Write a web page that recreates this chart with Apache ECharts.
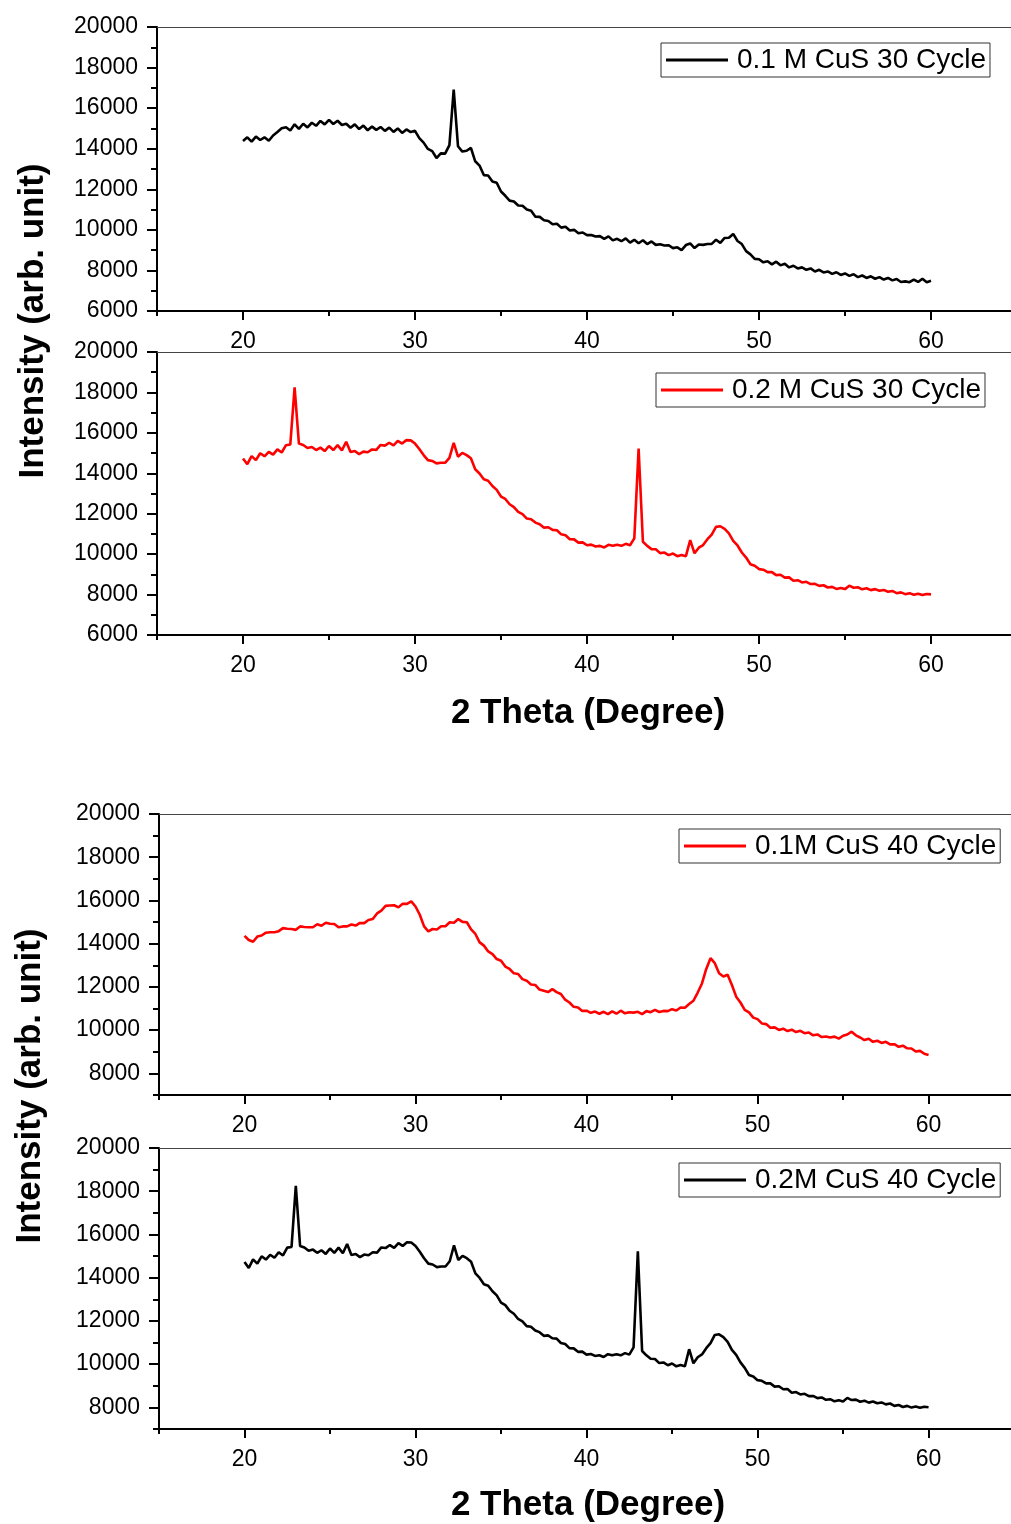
<!DOCTYPE html>
<html>
<head>
<meta charset="utf-8">
<script src="https://cdn.jsdelivr.net/npm/echarts@6/dist/echarts.min.js"></script>
<style>
  html, body { margin: 0; padding: 0; background: #fff; }
  #main { width: 1011px; height: 1524px; }
</style>
</head>
<body>
<div id="main"></div>
<script>
// 2 theta grid, 0.25 degree steps from 20 to 60
var theta = [];
for (var i = 0; i <= 160; i++) { theta.push(20 + i * 0.25); }

var names = ['0.1 M CuS 30 Cycle', '0.2 M CuS 30 Cycle', '0.1M CuS 40 Cycle', '0.2M CuS 40 Cycle'];
var colors = ['#000000', '#ff0000', '#ff0000', '#000000'];

var xLabels = [20, 30, 40, 50, 60];
var xMinor = [15, 25, 35, 45, 55];
var yLabels30 = [6000, 8000, 10000, 12000, 14000, 16000, 18000, 20000];
var yLabels40 = [8000, 10000, 12000, 14000, 16000, 18000, 20000];
var yMinor = [7000, 9000, 11000, 13000, 15000, 17000, 19000];

// intensities, one row = 2 degrees
var cus01_30 = [
  14380, 14560, 14350, 14600, 14430, 14560, 14390, 14650,
  14820, 15010, 15060, 14900, 15200, 14980, 15230, 15050,
  15280, 15130, 15370, 15200, 15420, 15220, 15380, 15170,
  15230, 15030, 15200, 14970, 15140, 14910, 15090, 14930,
  15070, 14880, 15040, 14830, 15000, 14780, 14950, 14820,
  14880, 14520, 14300, 13990, 13880, 13540, 13770, 13760,
  14180, 16920, 14120, 13860, 13900, 14040, 13380, 13170,
  12700, 12680, 12380, 12320, 11890, 11680, 11440, 11400,
  11200, 11190, 11000, 10940, 10650, 10640, 10470, 10440,
  10280, 10300, 10110, 10150, 9970, 10000, 9830, 9870,
  9740, 9750, 9670, 9690, 9560, 9680, 9480, 9560,
  9440, 9580, 9370, 9510, 9340, 9490, 9300, 9430,
  9260, 9290, 9230, 9240, 9100, 9140, 9000, 9250,
  9330, 9100, 9280, 9260, 9300, 9310, 9510, 9360,
  9600, 9610, 9800, 9450, 9300, 8950, 8790, 8570,
  8550, 8400, 8450, 8300, 8430, 8250, 8330, 8150,
  8230, 8100, 8150, 8030, 8100, 7950, 8030, 7900,
  7950, 7830, 7910, 7780, 7850, 7730, 7810, 7670,
  7750, 7630, 7710, 7590, 7670, 7550, 7630, 7510,
  7580, 7430, 7460, 7420, 7550, 7430, 7590, 7420,
  7490
];

var cus02_30 = [
  14730, 14450, 14850, 14650, 14990, 14840, 15060, 14920,
  15180, 15030, 15390, 15420, 18250, 15470, 15400, 15250,
  15300, 15150, 15270, 15100, 15350, 15150, 15390, 15130,
  15560, 15050, 15100, 14950, 15070, 15040, 15180, 15160,
  15400, 15370, 15510, 15380, 15600, 15470, 15640, 15630,
  15470, 15200, 14900, 14650, 14610, 14490, 14520, 14520,
  14760, 15500, 14820, 15010, 14900, 14740, 14200, 13990,
  13700, 13630, 13370, 13180, 12850, 12730, 12470, 12330,
  12090, 11980, 11760, 11730, 11560, 11480, 11310, 11330,
  11200, 11180, 10980, 10930, 10740, 10730, 10570, 10580,
  10440, 10470, 10380, 10410, 10330, 10460, 10410, 10460,
  10410, 10510, 10440, 10780, 15220, 10610, 10410, 10250,
  10240, 10050, 10080, 9950, 10030, 9900, 9960, 9900,
  10690, 10040, 10320, 10450, 10740, 10970, 11350, 11380,
  11250, 11030, 10660, 10430, 10080, 9830, 9500, 9430,
  9260, 9230, 9110, 9110, 8960, 8980, 8840, 8850,
  8680, 8710, 8600, 8630, 8520, 8530, 8430, 8460,
  8350, 8380, 8280, 8330, 8270, 8440, 8340, 8360,
  8260, 8310, 8220, 8270, 8190, 8230, 8140, 8180,
  8070, 8110, 8020, 8070, 7990, 8040, 7980, 8030,
  8010
];

var cus01_40 = [
  14360, 14170, 14090, 14330, 14380, 14510, 14530, 14530,
  14580, 14720, 14690, 14680, 14640, 14800, 14770, 14760,
  14760, 14900, 14830, 14970, 14920, 14910, 14760, 14800,
  14800, 14890, 14840, 14960, 14950, 15100, 15140, 15400,
  15530, 15750, 15770, 15780, 15680, 15850, 15840, 15960,
  15720, 15340, 14800, 14570, 14680, 14660, 14810, 14810,
  14990, 14970, 15140, 15010, 14990, 14660, 14450, 14060,
  13910, 13640, 13520, 13290, 13210, 12940, 12830, 12630,
  12600, 12360, 12290, 12110, 12090, 11880, 11820, 11760,
  11900, 11760, 11670, 11410, 11280, 11080, 11050, 10890,
  10900, 10800, 10860, 10760, 10850, 10740, 10870, 10760,
  10900, 10780, 10830, 10810, 10850, 10740, 10880, 10830,
  10940, 10840, 10890, 10880, 10970, 10910, 11050, 11040,
  11210, 11360, 11740, 12160, 12830, 13330, 13100, 12630,
  12480, 12560, 12090, 11550, 11280, 10940, 10820, 10580,
  10510, 10310, 10280, 10110, 10130, 10010, 10070, 9960,
  10020, 9910, 9970, 9860, 9890, 9760, 9800, 9680,
  9710, 9660, 9700, 9610, 9740, 9800, 9930, 9760,
  9660, 9540, 9600, 9460, 9510, 9410, 9460, 9340,
  9350, 9230, 9280, 9160, 9150, 9010, 9040, 8910,
  8850
];

// the 0.2M 40 cycle trace reads the same as the 0.2 M 30 cycle one
var cus02_40 = cus02_30;

var FONT = '"Liberation Sans", Arial, Helvetica, sans-serif';

// plot areas run to the right edge of the page, so xMax is where the frame is cut
var panels = [
  { values: cus01_30, yMin: 6000, yLabels: yLabels30, xMax: 64.65, rect: { left: 157, top: 27, width: 854, height: 284 }, legend: { left: 661, top: 43 } },
  { values: cus02_30, yMin: 6000, yLabels: yLabels30, xMax: 64.65, rect: { left: 157, top: 352, width: 854, height: 283 }, legend: { left: 656, top: 373 } },
  { values: cus01_40, yMin: 7000, yLabels: yLabels40, xMax: 64.82, rect: { left: 159, top: 814, width: 852, height: 281 }, legend: { left: 679, top: 829 } },
  { values: cus02_40, yMin: 7000, yLabels: yLabels40, xMax: 64.82, rect: { left: 159, top: 1148, width: 852, height: 281 }, legend: { left: 679, top: 1163 } }
];

var grids = [], xAxes = [], yAxes = [], series = [], legends = [];
var axisLine = { show: true, lineStyle: { color: '#000', width: 2 } };
var n = panels.length;

panels.forEach(function(p, k) {
  grids.push(Object.assign({ show: false, containLabel: false }, p.rect));
  xAxes.push({
    type: 'value', gridIndex: k, min: 15, max: p.xMax, position: 'bottom',
    axisLine: axisLine,
    axisTick: { inside: false, length: 9, customValues: xLabels, lineStyle: { color: '#000', width: 2 } },
    axisLabel: { customValues: xLabels, fontSize: 23, color: '#000', fontFamily: FONT, margin: 19 },
    splitLine: { show: false }
  });
  yAxes.push({
    type: 'value', gridIndex: k, min: p.yMin, max: 20000,
    axisLine: axisLine,
    axisTick: { inside: false, length: 10, customValues: p.yLabels, lineStyle: { color: '#000', width: 2 } },
    axisLabel: {
      customValues: p.yLabels, fontSize: 23, color: '#000', fontFamily: FONT, margin: 19,
      formatter: function(v) { return String(v); }
    },
    splitLine: { show: false }
  });
  series.push({
    name: names[k], type: 'line', xAxisIndex: k, yAxisIndex: k,
    data: theta.map(function(t, i) { return [t, p.values[i]]; }),
    showSymbol: false, symbol: 'none',
    lineStyle: { color: colors[k], width: 2.6 },
    itemStyle: { color: colors[k] },
    animation: false
  });
  legends.push({
    data: [names[k]], left: p.legend.left, top: p.legend.top,
    orient: 'horizontal', icon: 'rect', itemWidth: 62, itemHeight: 3,
    padding: [3, 4, 3, 5],
    borderColor: '#333', borderWidth: 1, backgroundColor: '#fff',
    textStyle: { fontSize: 28, color: '#000', fontFamily: FONT, padding: [0, 0, 0, 4] },
    selectedMode: false
  });
});

// overlay grids carrying the short minor ticks
panels.forEach(function(p, k) {
  grids.push(Object.assign({ show: false }, p.rect));
  xAxes.push({
    type: 'value', gridIndex: n + k, min: 15, max: p.xMax,
    axisLine: { show: false },
    axisTick: { inside: false, length: 5, customValues: xMinor, lineStyle: { color: '#000', width: 2 } },
    axisLabel: { show: false },
    splitLine: { show: false }
  });
  yAxes.push({
    type: 'value', gridIndex: n + k, min: p.yMin, max: 20000,
    axisLine: { show: false },
    axisTick: { inside: false, length: 6, customValues: yMinor, lineStyle: { color: '#000', width: 2 } },
    axisLabel: { show: false },
    splitLine: { show: false }
  });
});

// thin top frame line of each panel
panels.forEach(function(p, k) {
  xAxes.push({
    type: 'value', gridIndex: k, min: 15, max: p.xMax, position: 'top',
    axisLine: { show: true, lineStyle: { color: '#444', width: 1 } },
    axisTick: { show: false }, axisLabel: { show: false }, splitLine: { show: false }
  });
});

var titleFont = { fontSize: 35, fontWeight: 'bold', fontFamily: FONT, fill: '#000', align: 'center', verticalAlign: 'middle' };

var chart = echarts.init(document.getElementById('main'), null, { renderer: 'canvas' });
chart.setOption({
  backgroundColor: '#fff',
  animation: false,
  grid: grids,
  xAxis: xAxes,
  yAxis: yAxes,
  legend: legends,
  series: series,
  graphic: [
    { type: 'text', x: 33, y: 321, rotation: Math.PI / 2, style: Object.assign({ text: 'Intensity (arb. unit)' }, titleFont) },
    { type: 'text', x: 30, y: 1086, rotation: Math.PI / 2, style: Object.assign({ text: 'Intensity (arb. unit)' }, titleFont) },
    { type: 'text', x: 588, y: 713, style: Object.assign({ text: '2 Theta (Degree)' }, titleFont) },
    { type: 'text', x: 588, y: 1505, style: Object.assign({ text: '2 Theta (Degree)' }, titleFont) }
  ]
});
</script>
</body>
</html>
